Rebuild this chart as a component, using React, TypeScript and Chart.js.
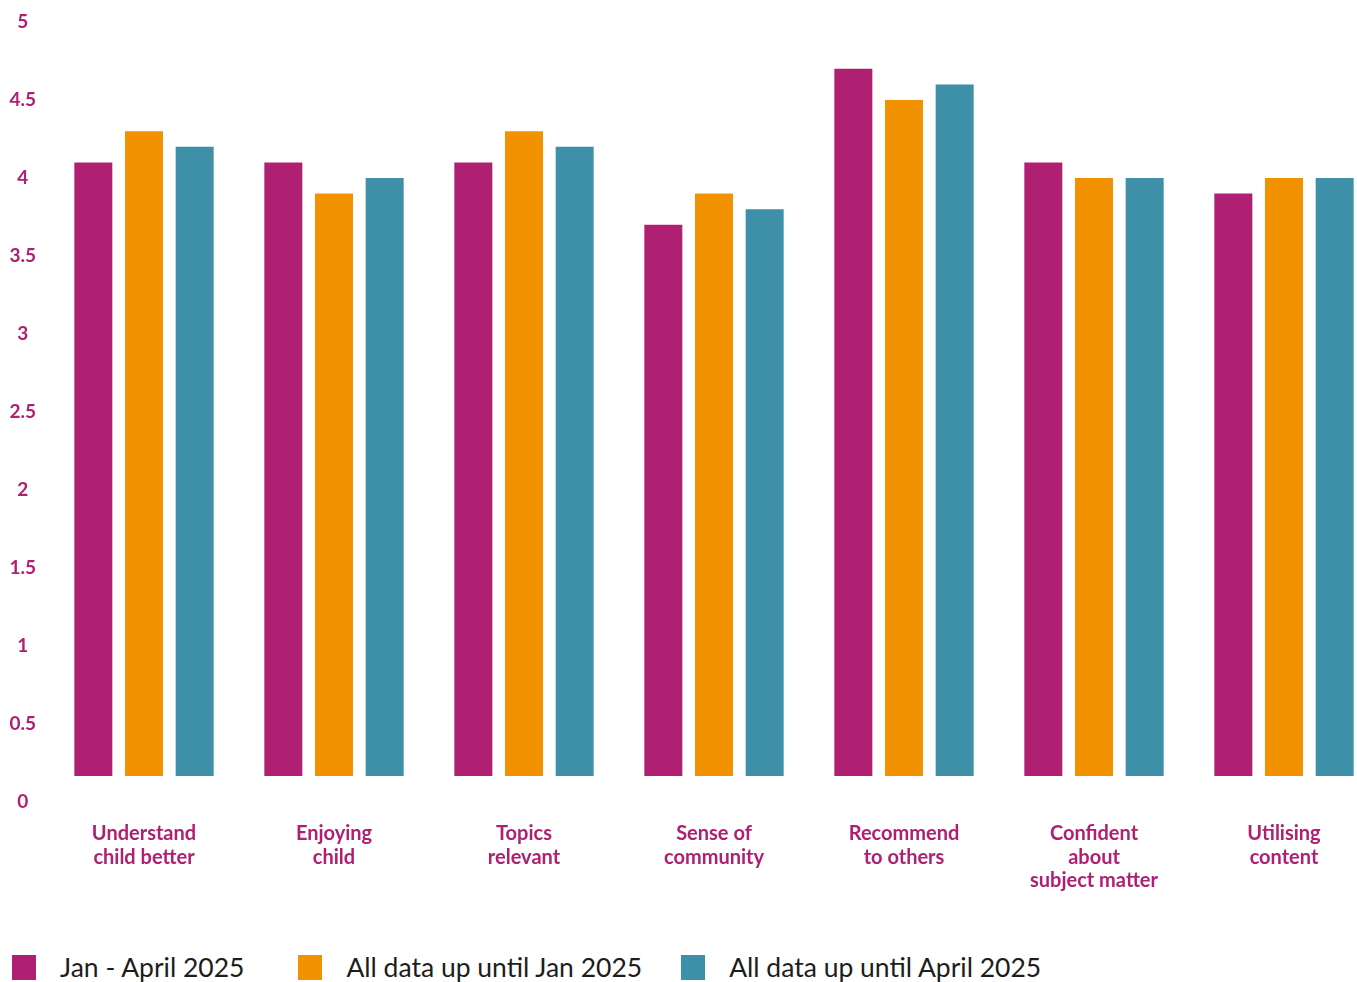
import React, { useEffect, useRef } from "react";
import { Chart, registerables } from "chart.js";

Chart.register(...registerables);

const categories: string[][] = [
  ["Understand", "child better"],
  ["Enjoying", "child"],
  ["Topics", "relevant"],
  ["Sense of", "community"],
  ["Recommend", "to others"],
  ["Confident", "about", "subject matter"],
  ["Utilising", "content"],
];

const seriesNames = ["Jan - April 2025", "All data up until Jan 2025", "All data up until April 2025"];
const janApril2025 = [4.1, 4.1, 4.1, 3.7, 4.7, 4.1, 3.9];
const untilJan2025 = [4.3, 3.9, 4.3, 3.9, 4.5, 4.0, 4.0];
const untilApril2025 = [4.2, 4.0, 4.2, 3.8, 4.6, 4.0, 4.0];
const seriesColors = ["#AF2072", "#F29200", "#3E8FA8"];

const labelColor = "#AF2072";
const FONT = "Lato, 'Noto Sans', sans-serif";
const legendGaps = [54, 39, 0];

export default function App() {
  const ref = useRef<HTMLCanvasElement | null>(null);

  useEffect(() => {
    if (!ref.current) return;
    const seriesValues = [janApril2025, untilJan2025, untilApril2025];
    const chart = new Chart(ref.current, {
      type: "bar",
      data: {
        labels: categories,
        datasets: seriesValues.map((vals, i) => ({
          label: seriesNames[i],
          data: vals,
          backgroundColor: seriesColors[i],
          borderWidth: 0,
          base: 0.167,
          categoryPercentage: 0.8,
          barPercentage: 0.75,
        })),
      },
      options: {
        animation: false,
        responsive: true,
        maintainAspectRatio: false,
        layout: { padding: { top: 14, left: 0, right: 0, bottom: 0 } },
        plugins: {
          legend: { display: false },
          tooltip: { enabled: false },
        },
        scales: {
          x: {
            grid: { display: false, drawTicks: false },
            border: { display: false },
            ticks: {
              color: labelColor,
              font: { family: FONT, size: 20, weight: "bold", lineHeight: 1.175 },
              padding: 20,
              maxRotation: 0,
              autoSkip: false,
            },
            afterFit: (scale: any) => {
              scale.height = 100;
              scale.paddingLeft = 0;
              scale.paddingRight = 0;
            },
          },
          y: {
            min: 0,
            max: 5,
            grid: { display: false, drawTicks: false },
            border: { display: false },
            ticks: {
              stepSize: 0.5,
              color: labelColor,
              font: { family: FONT, size: 19, weight: "bold" },
              padding: 13,
              crossAlign: "center",
              callback: (v: any) => String(Number(v)),
            },
            afterFit: (scale: any) => {
              scale.width = 41;
              scale.paddingTop = 0;
              scale.paddingBottom = 0;
            },
          },
        },
      },
    });
    return () => chart.destroy();
  }, []);

  return (
    <div>
      <div
        style={{
          position: "absolute",
          left: 8,
          top: 8,
          width: 1349,
          height: 894,
          overflow: "hidden",
        }}
      >
        <div style={{ width: 1371, height: 894, position: "relative" }}>
          <canvas ref={ref} />
        </div>
      </div>
      <div
        style={{
          position: "absolute",
          top: 953,
          left: 12,
          height: 28,
          display: "flex",
          alignItems: "center",
          fontFamily: FONT,
          fontSize: 26.5,
          lineHeight: "28px",
          color: "#1D1D1B",
          whiteSpace: "nowrap",
        }}
      >
        {seriesNames.map((name, i) => (
          <div key={name} style={{ display: "flex", alignItems: "center", marginRight: legendGaps[i] }}>
            <div style={{ width: 24, height: 25, background: seriesColors[i] }} />
            <span style={{ marginLeft: 24 }}>{name}</span>
          </div>
        ))}
      </div>
    </div>
  );
}
